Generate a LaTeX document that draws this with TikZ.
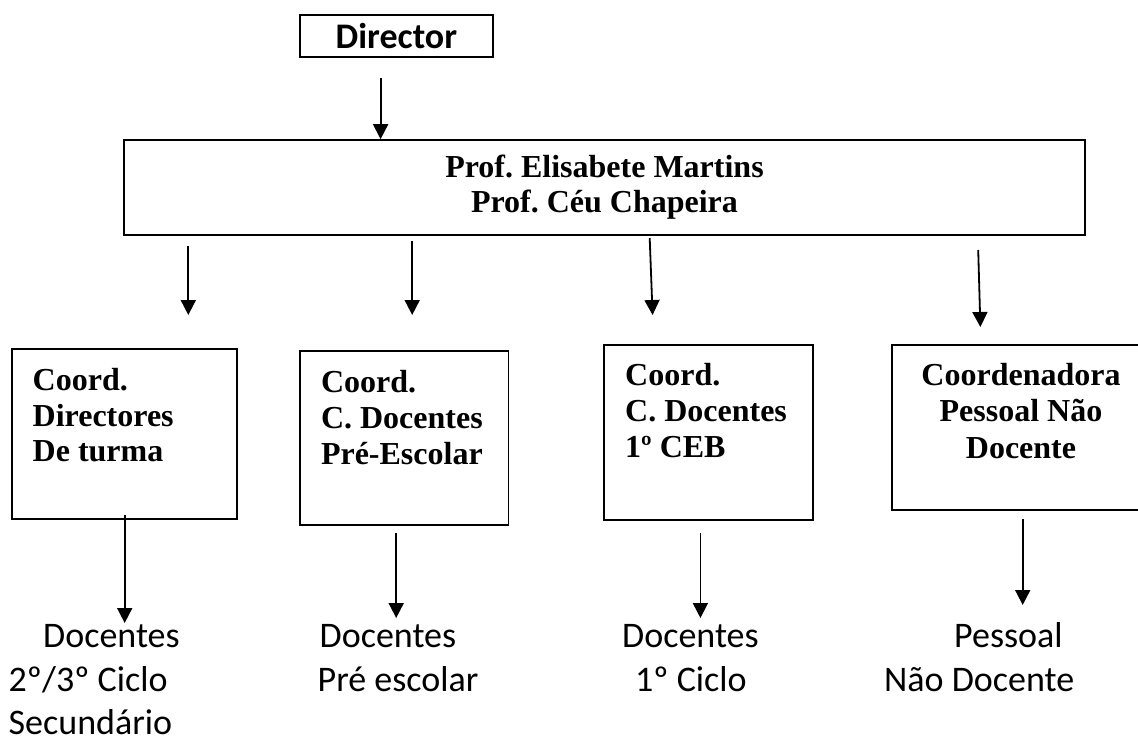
\documentclass[tikz,border=0pt]{standalone}
\usepackage{fontspec}
\setmainfont{Liberation Serif}
\newfontfamily\carlito{Carlito}
\usetikzlibrary{arrows.meta}
\frenchspacing
\begin{document}
\begin{tikzpicture}[x=1pt,y=-1pt,
  box/.style={draw, line width=1.6pt, inner sep=0pt, rectangle},
  arr/.style={-{Triangle[width=15pt,length=15pt]}, line width=1.8pt},
  serifb/.style={font=\fontsize{32}{35}\selectfont\bfseries, inner sep=0pt},
  boxtxt/.style={serifb, anchor=base west},
  boxtxtc/.style={serifb, anchor=base},
  lbl/.style={font=\carlito\fontsize{36}{45}\selectfont, inner sep=0pt, anchor=base west}]
\useasboundingbox (0,0) rectangle (1138,742);
\fill[white] (0,0) rectangle (1138,742);
\clip (0,0) rectangle (1138,742);

% top
\node[box, line width=1.3pt, minimum width=193pt, minimum height=42pt, font=\carlito\bfseries\fontsize{36}{40}\selectfont] (dir) at (396.4,36) {\raisebox{-2pt}{Director}};
\node[box, minimum width=961pt, minimum height=95pt, serifb, align=center] (big) at (604.5,187.5) {Prof. Elisabete Martins\\Prof. Céu Chapeira};

% coordinator boxes
\node[box, minimum width=224.7pt, minimum height=170pt] (b1) at (124.35,434) {};
\node[box, minimum width=208.7pt, minimum height=174pt] (b2) at (404.25,438) {};
\node[box, minimum width=209pt, minimum height=175pt] (b3) at (708.5,432.5) {};
\node[box, minimum width=258pt, minimum height=165pt] (b4) at (1021,427.5) {};

\node[boxtxt] (b1a) at (32.5,390.5) {Coord.};
\node[boxtxt] (b1b) at (32.5,426) {Directores};
\node[boxtxt] (b1c) at (32.5,461.5) {De turma};

\node[boxtxt] (b2a) at (320.8,392.7) {Coord.};
\node[boxtxt] (b2b) at (320.8,428.5) {C. Docentes};
\node[boxtxt] (b2c) at (320.8,464.5) {Pré-Escolar};

\node[boxtxt] (b3a) at (625,385) {Coord.};
\node[boxtxt] (b3b) at (625,421) {C. Docentes};
\node[boxtxt] (b3c) at (625,457) {1º CEB};

\node[boxtxtc] (b4a) at (1021,385) {Coordenadora};
\node[boxtxtc] (b4b) at (1021,421.5) {Pessoal Não};
\node[boxtxtc] (b4c) at (1021,458) {Docente};

% bottom labels
\node[lbl] (t1a) at (43,647) {Docentes};
\node[lbl] (t1b) at (8.5,691.5) {2º/3º Ciclo};
\node[lbl] (t1c) at (8.5,734) {Secundário};

\node[lbl] (t2a) at (319.5,647) {Docentes};
\node[lbl] (t2b) at (317.5,691.5) {Pré escolar};

\node[lbl] (t3a) at (622,647) {Docentes};
\node[lbl] (t3b) at (635,691.5) {1º Ciclo};

\node[lbl] (t4a) at (954,647) {Pessoal};
\node[lbl] (t4b) at (884,691.5) {Não Docente};

% connectors
\coordinate (d1) at (380.6,78);
\draw[arr] (d1) -- (d1 |- big.north);

\coordinate (a1s) at (188.3,246); \coordinate (a1e) at (188.3,315);
\coordinate (a2s) at (412.2,241); \coordinate (a2e) at (412.2,315);
\coordinate (a3s) at (649.7,238); \coordinate (a3e) at (652.6,315);
\coordinate (a4s) at (978.2,250); \coordinate (a4e) at (980.4,327);
\draw[arr] (a1s) -- (a1e);
\draw[arr] (a2s) -- (a2e);
\draw[arr] (a3s) -- (a3e);
\draw[arr] (a4s) -- (a4e);

\coordinate (c1s) at (124.7,515); \coordinate (c1e) at (124.7,623);
\coordinate (c2s) at (396.2,533); \coordinate (c2e) at (396.2,618);
\coordinate (c3s) at (700.4,533); \coordinate (c3e) at (700.4,618);
\coordinate (c4s) at (1022.7,519); \coordinate (c4e) at (1022.7,605);
\draw[arr] (c1s) -- (c1e);
\draw[arr] (c2s) -- (c2e);
\draw[arr] (c3s) -- (c3e);
\draw[arr] (c4s) -- (c4e);
\end{tikzpicture}
\end{document}
